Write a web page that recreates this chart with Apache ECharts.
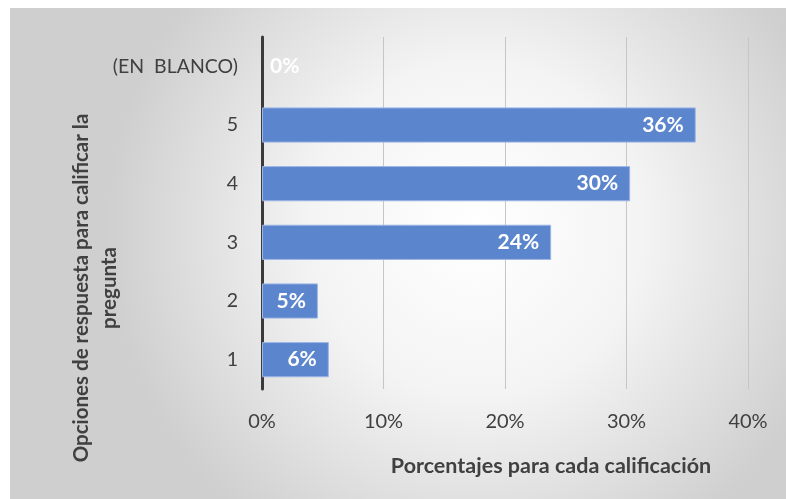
<!DOCTYPE html>
<html><head><meta charset="utf-8">
<script src="https://cdn.jsdelivr.net/npm/echarts@6/dist/echarts.min.js"></script>
<style>html,body{margin:0;padding:0;background:#fff}#c{width:786px;height:499px}</style>
</head><body><div id="c"></div>
<script>
const categories = ['1', '2', '3', '4', '5', '(EN  BLANCO)'];
const values = [5.5, 4.6, 23.8, 30.3, 35.7, 0];
const xTicks = [0, 10, 20, 30, 40];
const xTitle = 'Porcentajes para cada calificación';
const yTitle = 'Opciones de respuesta para calificar la\npregunta';

const chart = echarts.init(document.getElementById('c'));
const FONT = 'Lato';
chart.setOption({
  backgroundColor: '#fff',
  animation: false,
  graphic: [
    { type: 'rect', z: -10, silent: true, shape: { x: 10, y: 8, width: 776, height: 491 },
      style: { fill: { type: 'radial', x: 0.6, y: 0.45, r: 0.75,
        colorStops: [{ offset: 0, color: '#ffffff' }, { offset: 0.45, color: '#f4f4f4' }, { offset: 1, color: '#cfcfcf' }] } } },
    { type: 'text', x: 95, y: 288, rotation: Math.PI / 2, z: 10,
      style: { text: yTitle, align: 'center', verticalAlign: 'middle', font: 'bold 20.5px Lato', fill: '#404040', lineHeight: 28 } },
    { type: 'text', x: 551, y: 466, z: 10,
      style: { text: xTitle, align: 'center', verticalAlign: 'middle', font: 'bold 21.5px Lato', fill: '#404040' } }
  ],
  grid: { left: 262, right: 38, top: 37, bottom: 110 },
  xAxis: {
    type: 'value', min: xTicks[0], max: xTicks[xTicks.length - 1], interval: 10,
    axisLine: { show: false }, axisTick: { show: false },
    splitLine: { show: true, lineStyle: { color: '#c6c6c6', width: 1 } },
    axisLabel: { formatter: v => v + '%', color: '#404040', fontFamily: FONT, fontSize: 20, margin: 23 }
  },
  yAxis: {
    type: 'category', data: categories,
    axisLine: { show: true, lineStyle: { color: '#3a3a3a', width: 3 } },
    axisTick: { show: false },
    axisLabel: { color: '#404040', fontFamily: FONT, fontSize: 19.5, margin: 24 }
  },
  series: [{
    type: 'bar', barCategoryGap: '40%',
    data: values.map((v, i) => v === 0 ? { value: v, itemStyle: { borderWidth: 0, color: 'transparent' }, label: { position: 'right', distance: 8, color: '#ffffff' } } : v),
    itemStyle: { color: '#5b85cc', borderColor: '#9db6e4', borderWidth: 1 },
    label: { show: true, position: 'insideRight', distance: 12, color: '#ffffff', fontFamily: FONT, fontWeight: 'bold', fontSize: 21,
      formatter: p => Math.round(p.value) + '%' }
  }]
});
</script></body></html>
